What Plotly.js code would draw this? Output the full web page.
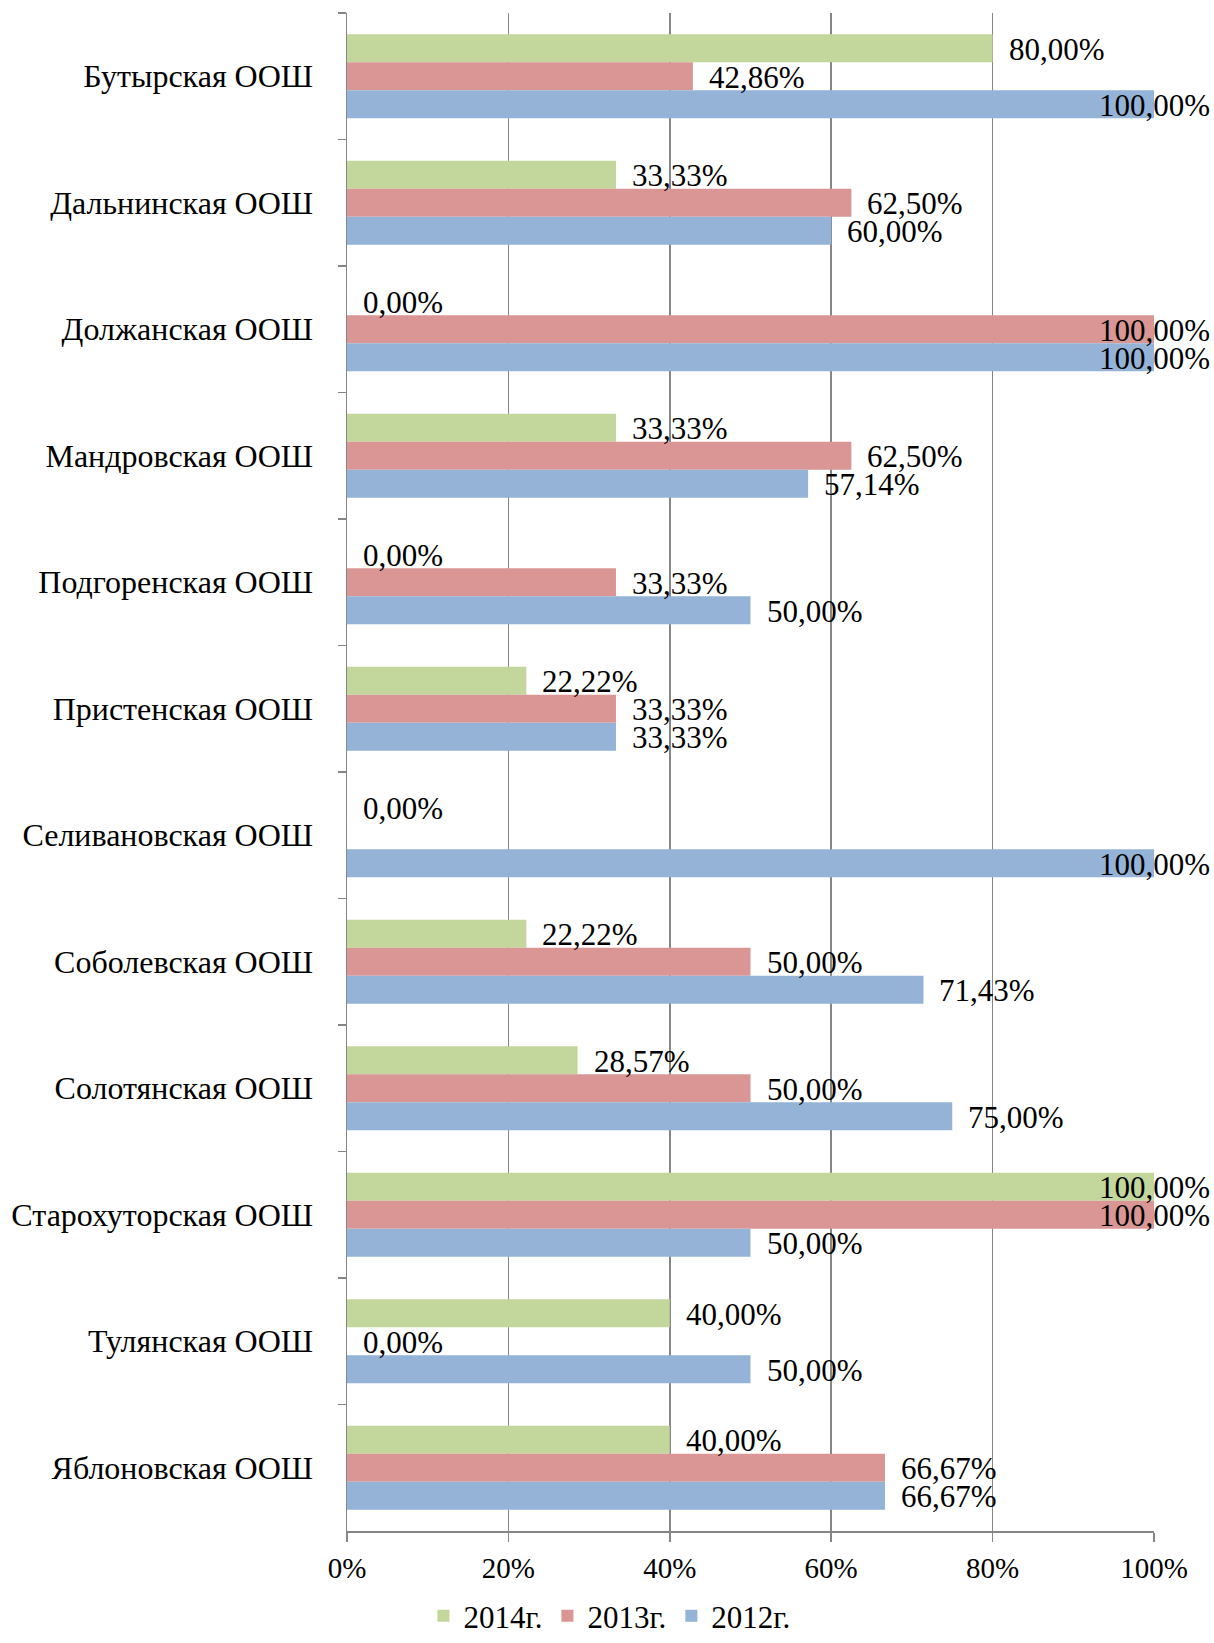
<!DOCTYPE html>
<html>
<head>
<meta charset="utf-8">
<script src="https://cdn.plot.ly/plotly-3.0.1.min.js"></script>
<style>html,body{margin:0;padding:0;background:#fff;}#chart{width:1214px;height:1643px;}</style>
</head>
<body>
<div id="chart"></div>
<script>
const categories = ["Бутырская ООШ","Дальнинская ООШ","Должанская ООШ","Мандровская ООШ","Подгоренская ООШ","Пристенская ООШ","Селивановская ООШ","Соболевская ООШ","Солотянская ООШ","Старохуторская ООШ","Тулянская ООШ","Яблоновская ООШ"];
const v2014 = [80, 33.33, 0, 33.33, 0, 22.22, 0, 22.22, 28.57, 100, 40, 40];
const v2013 = [42.86, 62.5, 100, 62.5, 33.33, 33.33, null, 50, 50, 100, 0, 66.67];
const v2012 = [100, 60, 100, 57.14, 50, 33.33, 100, 71.43, 75, 50, 50, 66.67];
const seriesNames = ["2014г.","2013г.","2012г."];
const xTickVals = [0, 20, 40, 60, 80, 100];
const xTickText = ["0%","20%","40%","60%","80%","100%"];

const seriesValues = [v2014, v2013, v2012];
const colors = ["#C3D69B", "#D99694", "#95B3D7"];
const font = "Liberation Serif";
const bargap = 0.336;
const barW = (1 - bargap) / 3;

const traces = seriesValues.map((vals, s) => ({
  type: "bar",
  orientation: "h",
  name: seriesNames[s],
  x: vals,
  y: categories,
  marker: {color: colors[s], line: {width: 0}},
  hoverinfo: "skip"
}));

const annotations = [];
seriesValues.forEach((vals, s) => {
  const off = (s - 1) * barW;
  vals.forEach((v, i) => {
    if (v === null || v === undefined) return;
    const txt = v.toFixed(2).replace(".", ",") + "%";
    const clamp = v >= 90;
    annotations.push({
      xref: "x", yref: "y",
      x: clamp ? 100 : v,
      y: i + off,
      text: txt,
      showarrow: false,
      xanchor: clamp ? "right" : "left",
      yanchor: "middle",
      xshift: clamp ? 58 : 14,
      yshift: -1,
      font: {family: font, size: 31, color: "#000"}
    });
  });
});

const layout = {
  width: 1214, height: 1643,
  margin: {l: 347, r: 60, t: 13, b: 112},
  paper_bgcolor: "#fff", plot_bgcolor: "#fff",
  font: {family: font, color: "#000"},
  barmode: "group",
  bargap: bargap,
  bargroupgap: 0,
  showlegend: true,
  legend: {
    orientation: "h", xref: "container", yref: "container",
    x: 0.502, xanchor: "center", y: -0.009, yanchor: "bottom",
    font: {family: font, size: 31, color: "#000"},
    traceorder: "normal", itemwidth: 30, tracegroupgap: 0
  },
  xaxis: {
    range: [0, 100], tickvals: xTickVals, ticktext: xTickText,
    showgrid: true, gridcolor: "#868686", gridwidth: 1.5,
    zeroline: false, showline: true, linecolor: "#868686", linewidth: 2,
    ticks: "outside", ticklen: 9, tickcolor: "#868686", tickwidth: 1.5,
    ticklabelstandoff: 1,
    tickfont: {family: font, size: 29, color: "#000"},
    fixedrange: true
  },
  yaxis: {
    type: "category", range: [11.5, -0.5],
    showgrid: false, zeroline: false, showline: true, linecolor: "#868686", linewidth: 1.5,
    ticks: "outside", ticklen: 8, tickcolor: "#868686", tickwidth: 1.5, tickson: "boundaries",
    ticklabelstandoff: 26,
    tickfont: {family: font, size: 32, color: "#000"},
    fixedrange: true
  },
  annotations: annotations
};

Plotly.newPlot("chart", traces, layout, {staticPlot: true, displayModeBar: false});
</script>
</body>
</html>
